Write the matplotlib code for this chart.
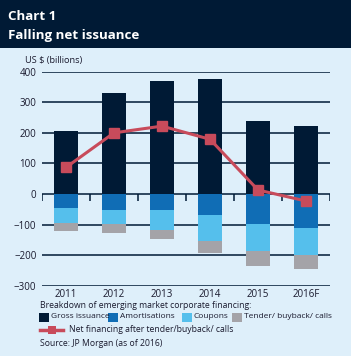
import numpy as np
import matplotlib
matplotlib.use("Agg")
import matplotlib.pyplot as plt
from matplotlib.patches import Rectangle
from matplotlib.lines import Line2D

plt.rcParams['font.family'] = ['Liberation Sans Narrow', 'Open Sans', 'DejaVu Sans']

years = ['2011', '2012', '2013', '2014', '2015', '2016F']
gross = [205, 329, 370, 376, 240, 223]
amort = [-45, -52, -52, -68, -98, -111]
coupons = [-50, -46, -65, -85, -90, -89]
tender = [-26, -31, -29, -40, -47, -46]
net = [87, 200, 222, 179, 13, -23]

navy = '#001a35'
blue = '#106db5'
light = '#55bfec'
grey = '#a4a3a8'
red = '#c84b5b'
bg = '#deeffa'
txt = '#1a1a2e'

fig = plt.figure(figsize=(3.51, 3.56), dpi=100, facecolor=bg)

# title band
fig.patches.append(Rectangle((0, 1 - 48 / 356), 1, 48 / 356, transform=fig.transFigure,
                             facecolor=navy, edgecolor='none', zorder=0))
fig.text(8 / 351, 1 - 17 / 356, 'Chart 1', color='white', fontsize=9.6,
         fontweight='bold', va='center', family=['Open Sans', 'DejaVu Sans'])
fig.text(8 / 351, 1 - 36 / 356, 'Falling net issuance', color='white', fontsize=9.6,
         fontweight='bold', va='center', family=['Open Sans', 'DejaVu Sans'])

ax = fig.add_axes([42 / 351, 1 - 285.7 / 356, 288 / 351, (285.7 - 71.7) / 356])
ax.set_facecolor('none')
x = np.arange(len(years))

for v in [400, 300, 200, 100, 0, -100, -200, -300]:
    ax.axhline(v, color=navy, lw=1.1, zorder=1)
# small tick marks on the zero line
ax.vlines(np.arange(len(years) + 1) - 0.5, -22, 0, color=navy, lw=1.1, zorder=1)

w = 0.5
ax.bar(x, gross, w, color=navy, zorder=2)
ax.bar(x, amort, w, color=blue, zorder=2)
ax.bar(x, coupons, w, bottom=amort, color=light, zorder=2)
b2 = np.array(amort) + np.array(coupons)
ax.bar(x, tender, w, bottom=b2, color=grey, zorder=2)
ax.plot(x, net, color=red, lw=2.2, marker='s', ms=6.5, zorder=3)

ax.set_xlim(-0.5, len(years) - 0.5)
ax.set_ylim(-300, 400)
ax.set_yticks([400, 300, 200, 100, 0, -100, -200, -300])
ax.set_xticks(x)
ax.set_xticklabels(years)
ax.tick_params(axis='both', length=0, labelsize=7, colors=txt)
ax.tick_params(axis='x', pad=2.5)
ax.tick_params(axis='y', pad=4)
for s in ax.spines.values():
    s.set_visible(False)

fig.text(25 / 351, 1 - 60 / 356, 'US $ (billions)', fontsize=6.6, va='center', color=txt)

# legend
fs = 6.0
fig.text(40 / 351, 1 - 305 / 356, 'Breakdown of emerging market corporate financing:',
         fontsize=6.2, va='center', color=txt)
items = [(39, navy, 'Gross issuance'), (108, blue, 'Amortisations'),
         (182, light, 'Coupons'), (232, grey, 'Tender/ buyback/ calls')]
for px, c, lab in items:
    fig.patches.append(Rectangle((px / 351, 1 - 321.5 / 356), 10 / 351, 9 / 356,
                                 transform=fig.transFigure, facecolor=c, edgecolor='none'))
    fig.text((px + 12) / 351, 1 - 317 / 356, lab, fontsize=fs, va='center', color=txt)
fig.lines.append(Line2D([40 / 351, 63 / 351], [1 - 330 / 356] * 2, transform=fig.transFigure,
                        color=red, lw=2.5))
fig.patches.append(Rectangle((47.5 / 351, 1 - 334 / 356), 8 / 351, 8 / 356,
                             transform=fig.transFigure, facecolor=red, edgecolor='none'))
fig.text(69 / 351, 1 - 330 / 356, 'Net financing after tender/buyback/ calls',
         fontsize=6.2, va='center', color=txt)
fig.text(40 / 351, 1 - 343 / 356, 'Source: JP Morgan (as of 2016)',
         fontsize=6.2, va='center', color=txt)

fig.savefig('out.png', dpi=100, facecolor=bg)
